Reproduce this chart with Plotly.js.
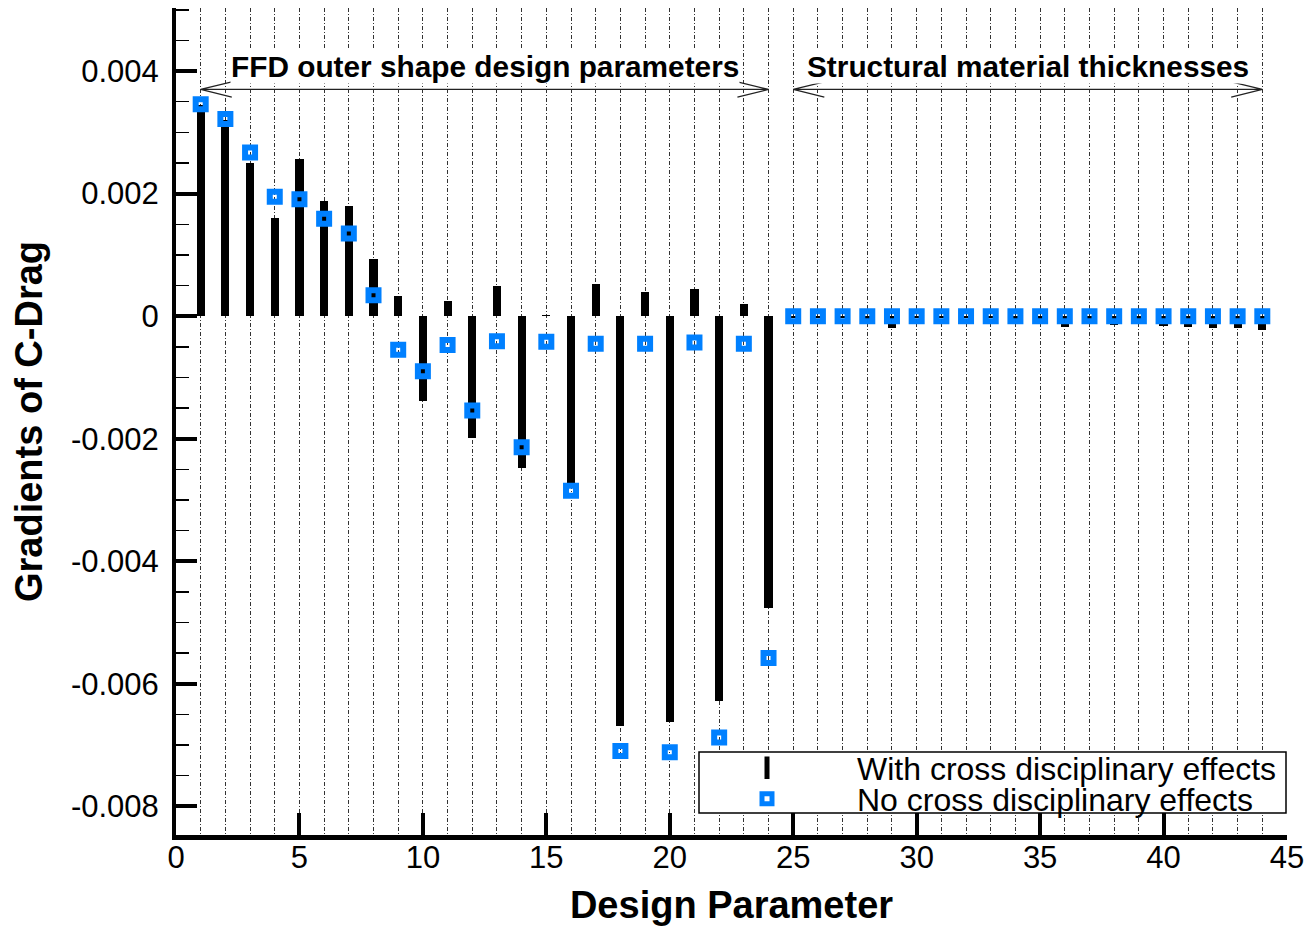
<!DOCTYPE html>
<html>
<head>
<meta charset="utf-8">
<script src="https://cdn.plot.ly/plotly-3.0.1.min.js"></script>
<style>html,body{margin:0;padding:0;background:#fff;}#chart{width:1308px;height:926px;}</style>
</head>
<body>
<div id="chart"></div>
<script>
// ---- data ----
const designParams = [1,2,3,4,5,6,7,8,9,10,11,12,13,14,15,16,17,18,19,20,21,22,23,24,
  25,26,27,28,29,30,31,32,33,34,35,36,37,38,39,40,41,42,43,44];
const withCross = [0.00345,0.00320,0.00250,0.00161,0.00256,0.00188,0.00180,0.00093,0.00033,-0.00139,
  0.00024,-0.00199,0.00049,-0.00248,0.00002,-0.00274,0.00052,-0.00669,0.00039,-0.00662,
  0.00044,-0.00629,0.00020,-0.00477,
  -0.00003,-0.00003,-0.00003,-0.00004,-0.00020,-0.00003,-0.00003,-0.00003,-0.00003,-0.00004,
  -0.00004,-0.00018,-0.00013,-0.00014,-0.00013,-0.00016,-0.00018,-0.00019,-0.00019,-0.00023];
const noCross = [0.00346,0.00322,0.00267,0.00195,0.00191,0.00159,0.00135,0.00034,-0.00055,-0.00090,
  -0.00047,-0.00154,-0.00041,-0.00214,-0.00042,-0.00285,-0.00045,-0.00710,-0.00045,-0.00712,
  -0.00043,-0.00688,-0.00045,-0.00558,
  0,0,0,0,0,0,0,0,0,0,0,0,0,0,0,0,0,0,0,0];
const yTickVals = [-0.008,-0.006,-0.004,-0.002,0,0.002,0.004];
const yTickText = ["-0.008","-0.006","-0.004","-0.002","0","0.002","0.004"];
const seriesNames = ["With cross disciplinary effects","No cross disciplinary effects"];
const groupLabels = ["FFD outer shape design parameters","Structural material thicknesses"];
const groupStart = [1,25];
const groupEnd = [24,44];

// ---- styling ----
const FONT = "Liberation Sans, Arial, sans-serif";
const BLUE = "#0080ff";
const arrowY = 0.00370, headDx = 1.26, headDy = 0.000123, labelY = 0.00407;

const traces = [
  {type:'bar', x:designParams, y:withCross, width:0.33, marker:{color:'#000', line:{width:0}},
   showlegend:false, legendgroup:'w', hoverinfo:'x+y'},
  {type:'scatter', mode:'markers', x:[null], y:[null], name:seriesNames[0], legendgroup:'w',
   marker:{symbol:'line-ns-open', size:16, color:'#000', line:{width:5,color:'#000'}}, legend:'legend'},
  {type:'scatter', mode:'markers', x:designParams, y:noCross, name:seriesNames[1], legend:'legend2',
   marker:{symbol:'square-open', size:10, color:BLUE, line:{width:6, color:BLUE}}}
];

const shapes = [];
const annotations = [];
for (let i = 0; i < groupLabels.length; i++) {
  const a = groupStart[i], b = groupEnd[i];
  shapes.push({type:'path', xref:'x', yref:'y', layer:'above',
    path:`M ${a},${arrowY} L ${b},${arrowY} M ${a+headDx},${arrowY+headDy} L ${a},${arrowY} L ${a+headDx},${arrowY-headDy} M ${b-headDx},${arrowY+headDy} L ${b},${arrowY} L ${b-headDx},${arrowY-headDy}`,
    line:{color:'#222', width:1.3}});
  annotations.push({xref:'x', yref:'y', x:(a+b)/2, y:labelY, text:groupLabels[i], showarrow:false,
    font:{family:FONT, size:29.8, weight:'bold', color:'#000'}, bgcolor:'#ffffff', borderpad:0});
}
// legend box
shapes.push({type:'rect', xref:'paper', yref:'paper', x0:(699-176)/1111, x1:(1286-176)/1111,
  y0:(835-813)/827, y1:(835-752)/827, fillcolor:'white', opacity:1, line:{color:'#000', width:1.5}, layer:'above'});

const legendCommon = {xanchor:'left', yanchor:'middle', bgcolor:'rgba(255,255,255,0)',
  borderwidth:0, itemwidth:170, font:{family:FONT, size:32}};

const layout = {
  width:1308, height:926,
  margin:{l:176, r:21, t:8, b:91, pad:0},
  paper_bgcolor:'#fff', plot_bgcolor:'#fff',
  font:{family:FONT, color:'#000'},
  bargap:0,
  xaxis:{range:[0,45], tickmode:'linear', tick0:0, dtick:5, ticks:'inside', ticklen:22, tickwidth:4,
    tickcolor:'#000', showline:true, linewidth:5, linecolor:'#000', mirror:false, zeroline:false,
    showgrid:true, gridcolor:'#333', gridwidth:1, griddash:'4px,2px,1px,2px',
    minor:{tickmode:'linear', tick0:0, dtick:1, showgrid:true, gridcolor:'#333', gridwidth:1, griddash:'4px,2px,1px,2px', ticks:''},
    tickfont:{family:FONT, size:31}, ticklabelstandoff:-9,
    title:{text:'Design Parameter', font:{family:FONT, size:38, weight:'bold'}, standoff:20}},
  yaxis:{range:[-0.00847,0.00503], tickmode:'array', tickvals:yTickVals, ticktext:yTickText,
    ticks:'inside', ticklen:21, tickwidth:4, tickcolor:'#000',
    minor:{tickmode:'linear', tick0:0, dtick:0.0005, ticks:'inside', ticklen:13, tickwidth:1.5, tickcolor:'#000', showgrid:false},
    showline:true, linewidth:4, linecolor:'#000', zeroline:false, showgrid:false,
    tickfont:{family:FONT, size:31}, ticklabelstandoff:7,
    title:{text:'Gradients of C-Drag', font:{family:FONT, size:38, weight:'bold'}, standoff:18}},
  shapes:shapes,
  annotations:annotations,
  legend:Object.assign({x:(677-176)/1111, y:(835-768)/827}, legendCommon),
  legend2:Object.assign({x:(677-176)/1111, y:(835-799)/827}, legendCommon),
  showlegend:true
};

Plotly.newPlot('chart', traces, layout, {displayModeBar:false, staticPlot:true});
</script>
</body>
</html>
